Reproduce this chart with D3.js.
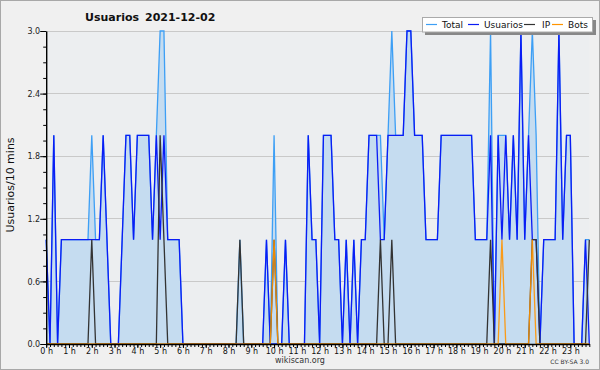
<!DOCTYPE html>
<html><head><meta charset="utf-8">
<script src="https://cdn.jsdelivr.net/npm/d3@7"></script>
<style>
html,body{margin:0;padding:0;background:#f0f0f0;}
svg{display:block;font-family:"DejaVu Sans",sans-serif;}
</style></head>
<body><svg id="c" width="600" height="370"></svg>
<script>
// 10-minute slots, in minutes since 00:00
const slotMinutes = d3.range(144).map(k => k * 10);
const hourLabels = d3.range(24).map(h => h + " h");
const yTicks = [0, 0.6, 1.2, 1.8, 2.4, 3.0];

const total = [1,0,2,0,1,1,1,1,1,1, 1,1,2,1,1,2,1,0,0,0, 1,2,2,1,2,2,2,2,1,2,
  3,3,1,1,1,1,0,0,0,0, 0,0,0,0,0,0,0,0,0,0, 0,1,0,0,0,0,0,0,1,0,
  2,0,0,1,0,0,0,0,0,2, 1,1,0,2,2,2,1,1,0,1, 0,1,0,1,1,2,2,2,2,1,
  2,3,2,2,2,3,3,2,2,2, 1,1,1,1,2,2,2,2,2,2, 2,2,2,1,1,1,1,3,0,2,
  2,2,1,2,1,3,1,2,3,2, 0,1,1,1,1,3,1,2,2,0, 0,0,1,1];
const usuarios = [1,0,2,0,1,1,1,1,1,1, 1,1,1,1,1,2,1,0,0,0, 1,2,2,1,2,2,2,2,1,2,
  1,2,1,1,1,1,0,0,0,0, 0,0,0,0,0,0,0,0,0,0, 0,0,0,0,0,0,0,0,1,0,
  0,0,0,1,0,0,0,0,0,2, 1,1,0,2,2,2,1,1,0,1, 0,1,0,1,1,2,2,2,1,1,
  2,2,2,2,2,3,3,2,2,2, 1,1,1,1,2,2,2,2,2,2, 2,2,2,1,1,1,1,2,0,2,
  1,2,1,2,1,3,1,2,1,1, 0,1,1,1,1,3,1,2,2,0, 0,0,1,0];
const ip = [0,0,0,0,0,0,0,0,0,0, 0,0,1,0,0,0,0,0,0,0, 0,0,0,0,0,0,0,0,0,0,
  2,1,0,0,0,0,0,0,0,0, 0,0,0,0,0,0,0,0,0,0, 0,1,0,0,0,0,0,0,0,0,
  1,0,0,0,0,0,0,0,0,0, 0,0,0,0,0,0,0,0,0,0, 0,0,0,0,0,0,0,0,1,0,
  0,1,0,0,0,0,0,0,0,0, 0,0,0,0,0,0,0,0,0,0, 0,0,0,0,0,0,0,1,0,0,
  0,0,0,0,0,0,0,0,1,1, 0,0,0,0,0,0,0,0,0,0, 0,0,0,1];
const bots = [0,0,0,0,0,0,0,0,0,0, 0,0,0,0,0,0,0,0,0,0, 0,0,0,0,0,0,0,0,0,0,
  0,0,0,0,0,0,0,0,0,0, 0,0,0,0,0,0,0,0,0,0, 0,0,0,0,0,0,0,0,0,0,
  1,0,0,0,0,0,0,0,0,0, 0,0,0,0,0,0,0,0,0,0, 0,0,0,0,0,0,0,0,0,0,
  0,0,0,0,0,0,0,0,0,0, 0,0,0,0,0,0,0,0,0,0, 0,0,0,0,0,0,0,0,0,0,
  1,0,0,0,0,0,0,0,1,0, 0,0,0,0,0,0,0,0,0,0, 0,0,0,0];

const seriesNames = ["Total", "Usuarios", "IP", "Bots"];
const seriesColors = ["#3d9ff5", "#0a1cf5", "#333333", "#ff9400"];

const svg = d3.select("#c");
const W = 600, H = 370;
const L = 46.2, R = 589.3, T = 31, B = 344;

svg.append("rect").attr("x",0.5).attr("y",0.5).attr("width",W-1).attr("height",H-1)
  .attr("fill","#f0f0f0").attr("stroke","#a8a8a8");

const x = d3.scaleLinear().domain([0, 1430]).range([L, R]);
const y = d3.scaleLinear().domain([0, 3]).range([B, T]);

svg.append("rect").attr("x", L).attr("y", T).attr("width", R - L).attr("height", B - T)
  .attr("fill", "#eceef0");

// grid
svg.append("g").selectAll("line").data(yTicks.slice(1)).join("line")
  .attr("x1", L).attr("x2", R).attr("y1", d => y(d)).attr("y2", d => y(d))
  .attr("stroke", "#c9c9c9").attr("stroke-width", 1).attr("shape-rendering","crispEdges");

const pts = arr => arr.map((v, i) => [slotMinutes[i], v]);

svg.append("path").datum(pts(total))
  .attr("d", d3.area().x(d => x(d[0])).y0(y(0)).y1(d => y(d[1])))
  .attr("fill", "#c5dcf0");

const line = d3.line().x(d => x(d[0])).y(d => y(d[1]));
[total, usuarios, ip, bots].forEach((arr, i) => {
  svg.append("path").datum(pts(arr)).attr("d", line)
    .attr("fill", "none").attr("stroke", seriesColors[i])
    .attr("stroke-width", 1.3).attr("stroke-linejoin", "miter")
    .attr("opacity", i === 3 ? 0.9 : 1);
});

// x axis
const xAxisG = svg.append("g").attr("transform", `translate(0,${B})`);
xAxisG.call(d3.axisBottom(x).tickValues(slotMinutes).tickSize(3).tickSizeOuter(0).tickFormat(""));
xAxisG.selectAll(".tick line").attr("stroke", "#000");
xAxisG.select(".domain").attr("stroke", "#000").attr("stroke-width", 1.4);
const hourG = svg.append("g").attr("transform", `translate(0,${B})`);
hourG.call(d3.axisBottom(x).tickValues(d3.range(24).map(h => h * 60)).tickSize(4).tickSizeOuter(0)
  .tickFormat((d, i) => hourLabels[i]));
hourG.select(".domain").remove();
hourG.selectAll(".tick line").attr("stroke", "#000");
hourG.selectAll(".tick text").attr("font-family", "DejaVu Sans").attr("font-size", 8)
  .attr("fill", "#111").attr("y", 4).attr("dy", "0.71em");

// y axis
const yAxisG = svg.append("g").attr("transform", `translate(${L},0)`);
yAxisG.call(d3.axisLeft(y).tickValues(d3.range(0, 3.001, 0.15)).tickSize(3).tickSizeOuter(0).tickFormat(""));
yAxisG.select(".domain").attr("stroke", "#000").attr("stroke-width", 1.4);
const yMajor = svg.append("g").attr("transform", `translate(${L},0)`);
yMajor.call(d3.axisLeft(y).tickValues(yTicks).tickSize(6).tickSizeOuter(0).tickFormat(d3.format(".1f")));
yMajor.select(".domain").remove();
yMajor.selectAll(".tick line").attr("stroke", "#000");
yMajor.selectAll(".tick text").attr("font-family", "DejaVu Sans").attr("font-size", 8)
  .attr("fill", "#222").attr("x", -6).attr("dy", "0.33em");

// title
svg.append("text").attr("x", 85).attr("y", 21).attr("font-size", 11).attr("font-weight", "bold")
  .attr("fill", "#111").text("Usuarios");
svg.append("text").attr("x", 145).attr("y", 21).attr("font-size", 11).attr("font-weight", "bold")
  .attr("fill", "#111").text("2021-12-02");

// y label
svg.append("text").attr("transform", "translate(14,185) rotate(-90)").attr("text-anchor", "middle")
  .attr("font-size", 11).attr("fill", "#111").text("Usuarios/10 mins");

// footer
svg.append("text").attr("x", 300).attr("y", 363).attr("text-anchor", "middle")
  .attr("font-size", 8).attr("fill", "#333").text("wikiscan.org");
svg.append("text").attr("x", 589).attr("y", 364).attr("text-anchor", "end")
  .attr("font-size", 6).attr("fill", "#333").text("CC BY-SA 3.0");

// legend
const lg = svg.append("g");
lg.append("rect").attr("x", 425).attr("y", 20).attr("width", 171).attr("height", 15).attr("fill", "#888");
lg.append("rect").attr("x", 422.5).attr("y", 17.5).attr("width", 170).attr("height", 14.5)
  .attr("fill", "#fff").attr("stroke", "#aaa");
const legX = [426, 468, 524, 552];
const legTX = [442, 484, 542, 568];
seriesNames.forEach((n, i) => {
  lg.append("line").attr("x1", legX[i]).attr("x2", legX[i] + 11).attr("y1", 24.5).attr("y2", 24.5)
    .attr("stroke", seriesColors[i]).attr("stroke-width", 1.2);
  lg.append("text").attr("x", legTX[i]).attr("y", 28).attr("font-size", 9).attr("fill", "#111").text(n);
});
</script></body></html>
